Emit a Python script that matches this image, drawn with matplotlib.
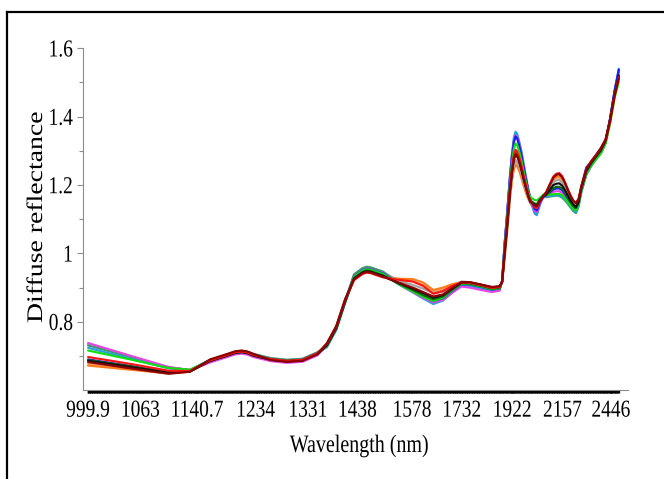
import numpy as np
import matplotlib
matplotlib.use("Agg")
import matplotlib.pyplot as plt
from matplotlib import patheffects
from matplotlib.transforms import Affine2D
from matplotlib.ticker import FixedLocator, FixedFormatter, MultipleLocator, NullFormatter
from matplotlib.lines import Line2D

# ---------------- data ----------------
wavelength_nm = [1000, 1050, 1100, 1130,
                 1160, 1190, 1200, 1210, 1220, 1230, 1260, 1290, 1320, 1350,
                 1370, 1390, 1410, 1430, 1450, 1460, 1470, 1500,
                 1540, 1580, 1610, 1640, 1670, 1700,
                 1730, 1760, 1800, 1840, 1870,
                 1880, 1890, 1898, 1905, 1912, 1920, 1928, 1935, 1942, 1950,
                 1960, 1970, 1980, 1990, 2000,
                 2010, 2020, 2030, 2045,
                 2060, 2075, 2090, 2110, 2125, 2140, 2155, 2170, 2185, 2200,
                 2215, 2230, 2245, 2260,
                 2290, 2320, 2350, 2380, 2410, 2440, 2470, 2500]

spec_cyan = [0.724, 0.692, 0.664, 0.658,
             0.688, 0.706, 0.712, 0.714, 0.711, 0.704, 0.692, 0.687, 0.690, 0.709,
             0.726, 0.776, 0.856, 0.932, 0.950, 0.954, 0.952, 0.940,
             0.910, 0.886, 0.868, 0.852, 0.862, 0.886,
             0.906, 0.905, 0.897, 0.889, 0.893,
             0.920, 1.030, 1.100, 1.165, 1.230, 1.290, 1.338, 1.356, 1.350, 1.330,
             1.300, 1.262, 1.225, 1.190, 1.160,
             1.135, 1.116, 1.112, 1.144,
             1.165, 1.166, 1.168, 1.170, 1.171, 1.170, 1.166, 1.158, 1.148, 1.138,
             1.128, 1.122, 1.140, 1.180,
             1.232, 1.258, 1.277, 1.294, 1.325, 1.395, 1.475, 1.540]
spec_magenta = [0.738, 0.701, 0.668, 0.659,
                0.681, 0.699, 0.705, 0.707, 0.704, 0.697, 0.685, 0.680, 0.683, 0.702,
                0.730, 0.780, 0.860, 0.934, 0.952, 0.956, 0.954, 0.942,
                0.911, 0.887, 0.870, 0.857, 0.864, 0.885,
                0.903, 0.900, 0.893, 0.887, 0.891,
                0.919, 1.025, 1.094, 1.158, 1.222, 1.281, 1.328, 1.345, 1.340, 1.320,
                1.291, 1.255, 1.220, 1.187, 1.159,
                1.142, 1.125, 1.121, 1.148,
                1.166, 1.169, 1.174, 1.180, 1.182, 1.182, 1.177, 1.167, 1.155, 1.144,
                1.133, 1.127, 1.144, 1.182,
                1.234, 1.259, 1.278, 1.295, 1.326, 1.393, 1.472, 1.535]
spec_gray = [0.734, 0.699, 0.667, 0.659,
             0.689, 0.707, 0.713, 0.715, 0.712, 0.705, 0.693, 0.688, 0.691, 0.710,
             0.730, 0.780, 0.862, 0.938, 0.956, 0.960, 0.958, 0.946,
             0.920, 0.908, 0.897, 0.884, 0.888, 0.903,
             0.918, 0.916, 0.908, 0.900, 0.903,
             0.916, 0.992, 1.053, 1.110, 1.170, 1.224, 1.260, 1.273, 1.269, 1.256,
             1.234, 1.208, 1.185, 1.164, 1.149,
             1.144, 1.137, 1.134, 1.154,
             1.167, 1.176, 1.190, 1.208, 1.214, 1.215, 1.207, 1.193, 1.176, 1.160,
             1.147, 1.140, 1.154, 1.188,
             1.240, 1.264, 1.282, 1.300, 1.330, 1.392, 1.468, 1.525]
spec_seagreen = [0.731, 0.697, 0.666, 0.659,
                 0.688, 0.706, 0.713, 0.715, 0.712, 0.706, 0.694, 0.689, 0.692, 0.711,
                 0.729, 0.779, 0.861, 0.939, 0.957, 0.961, 0.959, 0.947,
                 0.912, 0.889, 0.871, 0.858, 0.867, 0.889,
                 0.909, 0.909, 0.901, 0.893, 0.897,
                 0.920, 1.027, 1.097, 1.161, 1.226, 1.285, 1.332, 1.350, 1.344, 1.325,
                 1.295, 1.258, 1.222, 1.188, 1.159,
                 1.138, 1.120, 1.116, 1.146,
                 1.164, 1.165, 1.166, 1.168, 1.169, 1.168, 1.163, 1.155, 1.145, 1.134,
                 1.124, 1.118, 1.137, 1.178,
                 1.230, 1.256, 1.276, 1.294, 1.324, 1.392, 1.470, 1.532]
spec_lime = [0.716, 0.690, 0.665, 0.660,
             0.686, 0.704, 0.710, 0.712, 0.709, 0.702, 0.690, 0.685, 0.688, 0.707,
             0.730, 0.780, 0.860, 0.932, 0.950, 0.954, 0.952, 0.940,
             0.911, 0.889, 0.873, 0.861, 0.870, 0.892,
             0.911, 0.910, 0.903, 0.895, 0.898,
             0.918, 1.014, 1.081, 1.142, 1.206, 1.263, 1.306, 1.322, 1.317, 1.300,
             1.273, 1.240, 1.209, 1.180, 1.165,
             1.160, 1.156, 1.155, 1.163,
             1.172, 1.172, 1.172, 1.173, 1.174, 1.174, 1.170, 1.161, 1.150, 1.140,
             1.130, 1.126, 1.143, 1.182,
             1.234, 1.258, 1.276, 1.293, 1.322, 1.383, 1.455, 1.502]
spec_red = [0.697, 0.677, 0.657, 0.656,
            0.687, 0.705, 0.711, 0.713, 0.710, 0.703, 0.691, 0.686, 0.689, 0.708,
            0.736, 0.786, 0.866, 0.922, 0.940, 0.944, 0.942, 0.930,
            0.923, 0.918, 0.905, 0.882, 0.890, 0.905,
            0.915, 0.914, 0.907, 0.899, 0.902,
            0.917, 1.006, 1.070, 1.130, 1.192, 1.248, 1.288, 1.303, 1.299, 1.283,
            1.258, 1.227, 1.200, 1.174, 1.153,
            1.147, 1.135, 1.132, 1.154,
            1.168, 1.180, 1.200, 1.225, 1.233, 1.235, 1.226, 1.208, 1.188, 1.170,
            1.155, 1.148, 1.160, 1.195,
            1.248, 1.270, 1.288, 1.308, 1.334, 1.390, 1.462, 1.515]
spec_darkred = [0.682, 0.664, 0.648, 0.654,
                0.690, 0.708, 0.714, 0.716, 0.713, 0.706, 0.688, 0.683, 0.686, 0.705,
                0.738, 0.788, 0.868, 0.924, 0.942, 0.946, 0.944, 0.932,
                0.915, 0.900, 0.887, 0.874, 0.880, 0.899,
                0.916, 0.916, 0.909, 0.902, 0.904,
                0.917, 1.000, 1.063, 1.121, 1.183, 1.238, 1.276, 1.290, 1.286, 1.272,
                1.248, 1.219, 1.194, 1.170, 1.151,
                1.146, 1.140, 1.138, 1.155,
                1.168, 1.179, 1.198, 1.222, 1.230, 1.232, 1.223, 1.206, 1.186, 1.168,
                1.154, 1.147, 1.159, 1.194,
                1.247, 1.270, 1.289, 1.309, 1.333, 1.389, 1.460, 1.512]
spec_orange = [0.672, 0.660, 0.649, 0.654,
               0.686, 0.704, 0.710, 0.712, 0.709, 0.702, 0.690, 0.685, 0.688, 0.707,
               0.730, 0.780, 0.860, 0.926, 0.944, 0.948, 0.946, 0.934,
               0.926, 0.925, 0.915, 0.893, 0.900, 0.910,
               0.916, 0.914, 0.907, 0.899, 0.902,
               0.915, 0.985, 1.045, 1.100, 1.160, 1.212, 1.246, 1.258, 1.255, 1.243,
               1.222, 1.198, 1.178, 1.160, 1.147,
               1.138, 1.132, 1.130, 1.153,
               1.168, 1.178, 1.196, 1.217, 1.224, 1.226, 1.218, 1.201, 1.182, 1.166,
               1.151, 1.144, 1.157, 1.185,
               1.236, 1.262, 1.282, 1.300, 1.322, 1.380, 1.455, 1.515]
spec_blue = [0.690, 0.671, 0.653, 0.655,
             0.686, 0.704, 0.710, 0.712, 0.709, 0.702, 0.690, 0.685, 0.688, 0.707,
             0.731, 0.781, 0.861, 0.933, 0.951, 0.955, 0.953, 0.941,
             0.912, 0.890, 0.874, 0.861, 0.869, 0.891,
             0.910, 0.909, 0.902, 0.894, 0.897,
             0.919, 1.024, 1.092, 1.156, 1.220, 1.279, 1.325, 1.342, 1.337, 1.318,
             1.289, 1.253, 1.218, 1.186, 1.158,
             1.147, 1.130, 1.126, 1.150,
             1.166, 1.170, 1.178, 1.187, 1.190, 1.190, 1.185, 1.174, 1.160, 1.148,
             1.136, 1.130, 1.146, 1.195,
             1.252, 1.268, 1.283, 1.298, 1.328, 1.395, 1.474, 1.538]
spec_black = [0.686, 0.668, 0.651, 0.655,
              0.685, 0.703, 0.709, 0.711, 0.708, 0.701, 0.689, 0.684, 0.687, 0.706,
              0.732, 0.782, 0.862, 0.926, 0.944, 0.948, 0.946, 0.934,
              0.914, 0.897, 0.884, 0.871, 0.878, 0.897,
              0.915, 0.915, 0.908, 0.901, 0.903,
              0.917, 0.999, 1.062, 1.120, 1.182, 1.236, 1.275, 1.288, 1.284, 1.270,
              1.246, 1.218, 1.193, 1.169, 1.151,
              1.148, 1.142, 1.140, 1.156,
              1.167, 1.174, 1.185, 1.200, 1.204, 1.205, 1.198, 1.185, 1.170, 1.155,
              1.143, 1.136, 1.151, 1.190,
              1.242, 1.266, 1.285, 1.303, 1.331, 1.391, 1.466, 1.520]
spec_darkgreen = [0.688, 0.670, 0.652, 0.655,
                  0.687, 0.705, 0.711, 0.713, 0.710, 0.703, 0.691, 0.686, 0.689, 0.708,
                  0.731, 0.781, 0.861, 0.928, 0.946, 0.950, 0.948, 0.936,
                  0.913, 0.893, 0.878, 0.866, 0.874, 0.894,
                  0.913, 0.912, 0.905, 0.897, 0.900,
                  0.917, 1.002, 1.066, 1.125, 1.187, 1.242, 1.281, 1.295, 1.291, 1.276,
                  1.252, 1.222, 1.196, 1.171, 1.152,
                  1.150, 1.146, 1.144, 1.158,
                  1.166, 1.171, 1.180, 1.191, 1.195, 1.195, 1.189, 1.177, 1.163, 1.150,
                  1.138, 1.132, 1.148, 1.187,
                  1.240, 1.264, 1.283, 1.301, 1.329, 1.390, 1.464, 1.518]
spec_salmon = [0.676, 0.662, 0.650, 0.654,
               0.684, 0.702, 0.708, 0.710, 0.707, 0.700, 0.688, 0.683, 0.686, 0.705,
               0.730, 0.780, 0.860, 0.927, 0.945, 0.949, 0.947, 0.935,
               0.922, 0.918, 0.908, 0.888, 0.895, 0.907,
               0.915, 0.913, 0.906, 0.898, 0.901,
               0.915, 0.988, 1.049, 1.105, 1.165, 1.217, 1.252, 1.265, 1.262, 1.249,
               1.227, 1.202, 1.181, 1.162, 1.148,
               1.137, 1.131, 1.128, 1.152,
               1.167, 1.177, 1.194, 1.214, 1.221, 1.222, 1.214, 1.198, 1.180, 1.164,
               1.150, 1.143, 1.156, 1.186,
               1.238, 1.263, 1.282, 1.300, 1.324, 1.384, 1.458, 1.516]

x_tick_labels = ['999.9', '1063', '1140.7', '1234', '1331', '1438',
                 '1578', '1732', '1922', '2157', '2446']
y_ticks = [0.8, 1.0, 1.2, 1.4, 1.6]
y_tick_labels = ['0.8', '1', '1.2', '1.4', '1.6']

series = [
    (spec_salmon, '#f2a36e'),
    (spec_orange, '#ff7b1c'),
    (spec_gray, '#a3a3a3'),
    (spec_seagreen, '#3c9a70'),
    (spec_cyan, '#27a2dc'),
    (spec_magenta, '#e645e6'),
    (spec_blue, '#1a1aff'),
    (spec_lime, '#10e010'),
    (spec_darkgreen, '#0b6b0b'),
    (spec_black, '#111111'),
    (spec_red, '#ff1414'),
    (spec_darkred, '#8b0000'),
]


class Stretch(patheffects.AbstractPathEffect):
    """Draw glyphs scaled in their own frame (mimics the stretched raster)."""

    def __init__(self, sx=1.0, sy=1.0, cy=0.0):
        super().__init__()
        self._pre = Affine2D().translate(0, -cy).scale(sx, sy).translate(0, cy)

    def draw_path(self, renderer, gc, tpath, affine, rgbFace=None):
        renderer.draw_path(gc, tpath, self._pre + affine, rgbFace)


plt.rcParams['font.family'] = ['Liberation Serif', 'DejaVu Serif']

W, H = 664, 479
fig = plt.figure(figsize=(W / 100, H / 100), dpi=100)
fig.patch.set_facecolor('white')

left_px, right_px, bottom_px, top_px = 82.7, 628.0, 389.5, 48.3
ax = fig.add_axes([left_px / W, 1 - bottom_px / H,
                   (right_px - left_px) / W, (bottom_px - top_px) / H])

wavenumber = 1e7 / np.asarray(wavelength_nm, dtype=float)
for vals, col in series:
    ax.plot(wavenumber, vals, color=col, lw=1.55, solid_joinstyle='round',
            solid_capstyle='round')

ax.set_xlim(10061, 3896)
ax.set_ylim(0.602, 1.6)

for s in ['top', 'right']:
    ax.spines[s].set_visible(False)
ax.spines['left'].set_color('#8c8c8c')
ax.spines['left'].set_linewidth(0.8)
ax.spines['bottom'].set_color('#8c8c8c')
ax.spines['bottom'].set_linewidth(0.8)

x_tick_pos = [1e7 / float(t) for t in x_tick_labels]
ax.xaxis.set_major_locator(FixedLocator(x_tick_pos))
ax.xaxis.set_major_formatter(FixedFormatter(x_tick_labels))
ax.xaxis.set_minor_locator(FixedLocator(np.arange(4000, 10004, 8)))
ax.xaxis.set_minor_formatter(NullFormatter())
ax.tick_params(axis='x', which='both', direction='out', length=2.0, width=1.0,
               color='black')
ax.tick_params(axis='x', which='major', labelsize=14, pad=7)

ax.yaxis.set_major_locator(FixedLocator(y_ticks))
ax.yaxis.set_major_formatter(FixedFormatter(y_tick_labels))
ax.yaxis.set_minor_locator(MultipleLocator(0.1))
ax.tick_params(axis='y', which='major', direction='out', length=4, width=0.8,
               color='#8c8c8c', labelsize=14, pad=3)
ax.tick_params(axis='y', which='minor', direction='out', length=3, width=0.8,
               color='#8c8c8c')

ax.set_xlabel('Wavelength (nm)', fontsize=14.4, va='center', ha='center')
ax.xaxis.set_label_coords((359 - left_px) / (right_px - left_px),
                          (H - 446 - (H - bottom_px)) / (bottom_px - top_px))
ax.set_ylabel('Diffuse reflectance', fontsize=16, rotation=90,
              rotation_mode='anchor', ha='left', va='baseline')
ax.yaxis.set_label_coords((42 - left_px) / (right_px - left_px),
                          ((H - 323) - (H - bottom_px)) / (bottom_px - top_px))

tick_fx = [Stretch(sy=1.25, cy=34)]
for lbl in ax.get_xticklabels() + ax.get_yticklabels():
    lbl.set_path_effects(tick_fx)
ax.xaxis.label.set_path_effects([Stretch(sy=1.25, cy=22)])
ax.yaxis.label.set_path_effects([Stretch(sx=1.25)])

# outer frame (partially cropped border of the source image)
fig.add_artist(Line2D([7 / W, 1.0], [1 - 12 / H, 1 - 12 / H],
                      transform=fig.transFigure, color='black', lw=1.6))
fig.add_artist(Line2D([7 / W, 7 / W], [0.0, 1 - 12 / H],
                      transform=fig.transFigure, color='black', lw=1.6))

fig.savefig('out.png', dpi=100)
